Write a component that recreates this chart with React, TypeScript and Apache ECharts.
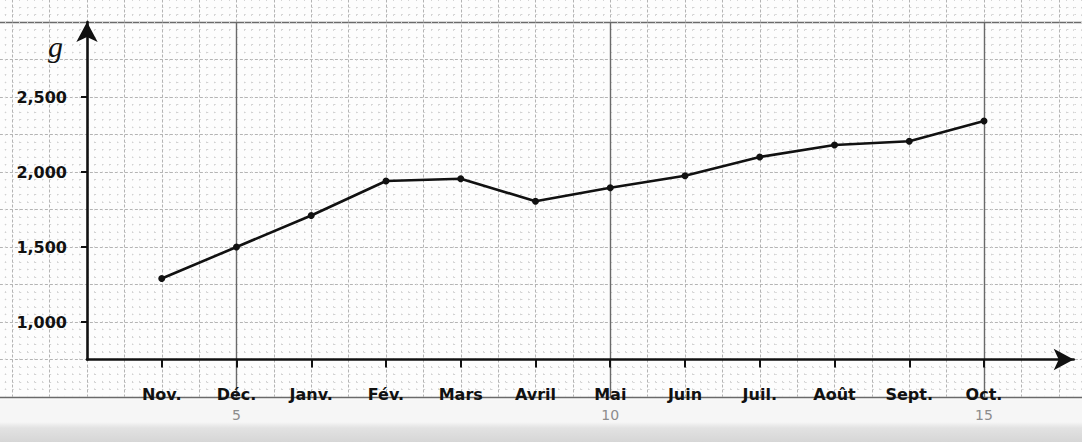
import React, { useEffect, useRef } from "react";
import * as echarts from "echarts";

// ---- data ----
const months = ["Nov.", "Déc.", "Janv.", "Fév.", "Mars", "Avril", "Mai", "Juin", "Juil.", "Août", "Sept.", "Oct."];
const weights = [1290, 1500, 1710, 1940, 1955, 1805, 1895, 1975, 2100, 2180, 2205, 2340];
const yTicks = [1000, 1500, 2000, 2500];
const pageNumbers = [5, 10, 15];
const yName = "g";

// ---- layout (pixel mapping of the hand-drawn sheet) ----
const X0 = 87; // pixel of month position 0 (y axis)
const PX_MONTH = 74.75;
const Y1000 = 322; // pixel of 1000 g
const PX_UNIT = 0.15;

function rect(xMin: number, xMax: number, yMin: number, yMax: number) {
  return {
    left: X0 + xMin * PX_MONTH,
    width: (xMax - xMin) * PX_MONTH,
    top: Y1000 - (yMax - 1000) * PX_UNIT,
    height: (yMax - yMin) * PX_UNIT,
    containLabel: false,
    outerBoundsMode: "none",
  };
}

export default function App() {
  const ref = useRef<HTMLDivElement>(null);
  useEffect(() => {
    if (!ref.current) return;
    const chart = echarts.init(ref.current, null, { renderer: "svg" });
    const ink = "#111";
    const font = "DejaVu Sans";
    const monthIdx = months.map((_, i) => i + 1);
    const PAGE_SHIFT = 3;
    chart.setOption({
      animation: false,
      grid: [
        rect(0, 13.2, 750, 3000), // main chart
        rect(-1.5, 14.5, 500, 3250), // paper fine grid
        rect(-PAGE_SHIFT, 20 - PAGE_SHIFT, 500, 3000), // paper major lines + page numbers
      ],
      xAxis: [
        {
          gridIndex: 0,
          type: "value",
          min: 0,
          max: 13.2,
          z: 5,
          axisLine: {
            show: true,
            onZero: false,
            symbol: ["none", "arrow"],
            symbolSize: [16, 20],
            lineStyle: { color: ink, width: 2.6 },
          },
          axisTick: { show: true, customValues: monthIdx, length: 8, lineStyle: { color: ink, width: 2 } },
          axisLabel: {
            customValues: monthIdx,
            formatter: (v: number) => months[Math.round(v) - 1] ?? "",
            margin: 26,
            color: ink,
            fontSize: 16,
            fontWeight: 600,
            fontFamily: font,
            lineHeight: 17,
          },
          splitLine: { show: false },
        },
        {
          gridIndex: 1,
          type: "value",
          min: -1.5,
          max: 14.5,
          interval: 0.5,
          axisLine: { show: false },
          axisTick: { show: false },
          axisLabel: { show: false },
          minorTick: { show: false, splitNumber: 5 },
          splitLine: { show: true, lineStyle: { color: "#b4b4b4", width: 1, type: [3, 2] } },
          minorSplitLine: { show: true, lineStyle: { color: "#d2d2d2", width: 1, type: [1.5, 5.98] } },
        },
        {
          gridIndex: 2,
          type: "value",
          min: 0,
          max: 20,
          interval: 5,
          axisLine: { show: false },
          axisTick: { show: false },
          axisLabel: {
            customValues: pageNumbers,
            margin: 10,
            color: "#8c8c8c",
            fontSize: 14,
            fontFamily: font,
            lineHeight: 15,
          },
          splitLine: { show: true, lineStyle: { color: "#6a6a6a", width: 1.4 } },
        },
      ],
      yAxis: [
        {
          gridIndex: 0,
          type: "value",
          min: 750,
          max: 3000,
          z: 5,
          name: yName,
          nameLocation: "end",
          nameGap: -24,
          nameTextStyle: {
            color: ink,
            fontSize: 30,
            fontFamily: "Liberation Serif",
            fontStyle: "italic",
            align: "right",
            verticalAlign: "middle",
            padding: [0, 24, 0, 0],
          },
          axisLine: {
            show: true,
            onZero: false,
            symbol: ["none", "arrow"],
            symbolSize: [16, 20],
            lineStyle: { color: ink, width: 2.6 },
          },
          axisTick: { show: true, customValues: yTicks, length: 6, lineStyle: { color: ink, width: 2 } },
          axisLabel: {
            customValues: yTicks,
            formatter: (v: number) => v.toLocaleString("en-US"),
            margin: 20,
            color: ink,
            fontSize: 16,
            fontWeight: 600,
            fontFamily: font,
          },
          splitLine: { show: false },
        },
        {
          gridIndex: 1,
          type: "value",
          min: 500,
          max: 3250,
          interval: 250,
          axisLine: { show: false },
          axisTick: { show: false },
          axisLabel: { show: false },
          minorTick: { show: false, splitNumber: 5 },
          splitLine: { show: true, lineStyle: { color: "#b4b4b4", width: 1, type: [3, 2] } },
          minorSplitLine: { show: true, lineStyle: { color: "#d2d2d2", width: 1, type: [1.5, 5.98] } },
        },
        {
          gridIndex: 2,
          type: "value",
          min: 500,
          max: 3000,
          interval: 2500,
          axisLine: { show: false },
          axisTick: { show: false },
          axisLabel: { show: false },
          splitLine: { show: true, lineStyle: { color: "#6a6a6a", width: 1.4 } },
        },
      ],
      series: [
        {
          type: "line",
          xAxisIndex: 0,
          yAxisIndex: 0,
          z: 6,
          data: weights.map((w, i) => [i + 1, w]),
          symbol: "circle",
          symbolSize: 7,
          itemStyle: { color: ink },
          lineStyle: { color: ink, width: 2.6 },
        },
      ],
    });
    return () => chart.dispose();
  }, []);
  return (
    <div
      ref={ref}
      style={{
        position: "fixed",
        left: 0,
        top: 0,
        width: 1082,
        height: 442,
        background:
          "linear-gradient(to bottom, #fdfdfd 0px, #fdfdfd 398px, #f6f6f6 400px, #f6f6f6 422px, #e2e2e2 428px, #d6d6d6 442px)",
      }}
    />
  );
}
